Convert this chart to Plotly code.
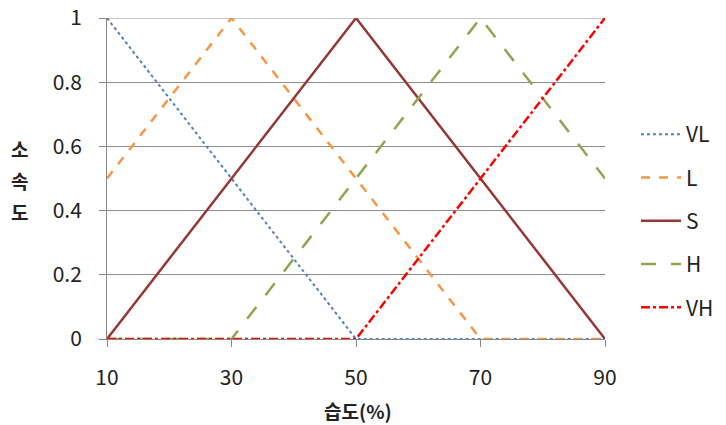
import plotly.graph_objects as go

humidity = [10, 30, 50, 70, 90]
vl = [1, 0.5, 0, 0, 0]
l = [0.5, 1, 0.5, 0, 0]
s = [0, 0.5, 1, 0.5, 0]
h = [0, 0, 0.5, 1, 0.5]
vh = [0, 0, 0, 0.5, 1]
y_ticks = [0, 0.2, 0.4, 0.6, 0.8, 1]
y_ticktext = ["0", "0.2", "0.4", "0.6", "0.8", "1"]

series = [
    ("VL", vl, "#4F81BD", "dot", 2),
    ("L", l, "#F79646", "dash", 2.5),
    ("S", s, "#953735", "solid", 2.5),
    ("H", h, "#8FA552", "longdash", 2.5),
    ("VH", vh, "#FF0000", "dashdot", 2.5),
]

FONT = "Noto Sans CJK KR, Open Sans, sans-serif"

W, H = 726, 425
ML, MR, MT, MB = 107, 121, 18, 86
PW, PH = W - ML - MR, H - MT - MB

def px_x(x):  # window px -> paper
    return (x - ML) / PW

def px_y(y):
    return 1 - (y - MT) / PH

fig = go.Figure()
for i, (name, ys, color, dash, w) in enumerate(series):
    fig.add_trace(go.Scatter(
        x=humidity, y=ys, name=name, mode="lines",
        line=dict(color=color, dash=dash, width=w),
        legendgroup=f"g{i}",
    ))

fig.update_layout(
    width=W, height=H,
    margin=dict(l=ML, r=MR, t=MT, b=MB, autoexpand=False),
    paper_bgcolor="white", plot_bgcolor="white",
    font=dict(family=FONT, size=21, color="#222"),
    showlegend=True,
    legend=dict(x=px_x(636), y=px_y(221), xanchor="left", yanchor="middle",
                font=dict(size=21), tracegroupgap=13, itemwidth=40,
                bgcolor="rgba(0,0,0,0)"),
    xaxis=dict(range=[10, 90], tickvals=humidity, showgrid=False,
               zeroline=False, showline=True, linecolor="#888", linewidth=1,
               ticks="outside", ticklen=7, tickcolor="#888",
               ticklabelstandoff=13, automargin=False,
               ticklabeloverflow="allow",
               tickfont=dict(size=21)),
    yaxis=dict(range=[0, 1], tickvals=y_ticks, ticktext=y_ticktext,
               showgrid=True, gridcolor="#8c8c8c", gridwidth=1,
               zeroline=False, showline=True, linecolor="#888", linewidth=1,
               ticks="outside", ticklen=7, tickcolor="#888",
               ticklabelstandoff=13, automargin=False,
               ticklabeloverflow="allow",
               tickfont=dict(size=21)),
)

# top gridline at the range edge (plotly omits it)
fig.add_shape(type="line", xref="paper", yref="y", x0=0, x1=1,
              y0=y_ticks[-1], y1=y_ticks[-1], line=dict(color="#8c8c8c", width=1),
              layer="below")

fig.add_annotation(text="<b>습도(%)</b>", x=px_x(358), y=px_y(410), xref="paper", yref="paper",
                   xanchor="center", yanchor="middle", showarrow=False,
                   font=dict(size=19, family=FONT))
for ch, yy in zip(["소", "속", "도"], [148, 181, 211]):
    fig.add_annotation(text=f"<b>{ch}</b>", x=px_x(19), y=px_y(yy), xref="paper", yref="paper",
                       xanchor="center", yanchor="middle", showarrow=False,
                       font=dict(size=19, family=FONT))

fig.write_html("out.html",
               config={"displayModeBar": False},
               post_script="document.body.style.margin='0';document.body.style.overflow='hidden';")
